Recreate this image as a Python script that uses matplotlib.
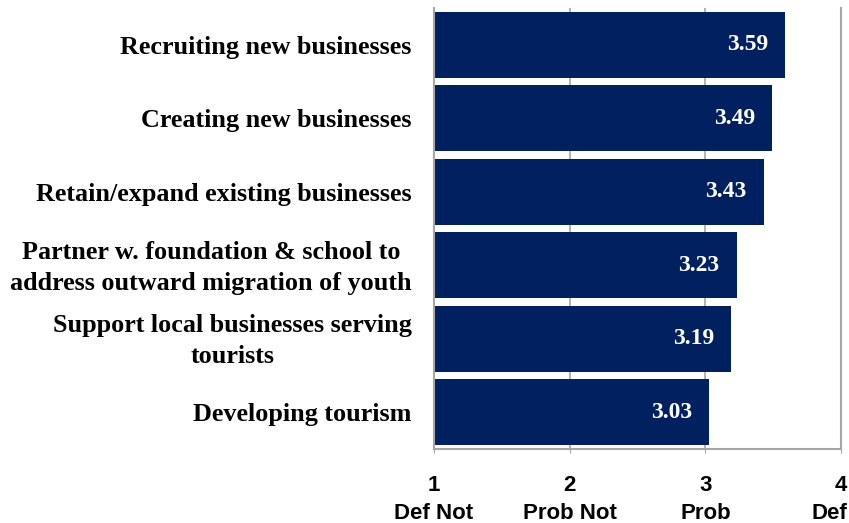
import matplotlib.pyplot as plt
import matplotlib.transforms as mtransforms
import numpy as np

categories = [
    "Recruiting new businesses",
    "Creating new businesses",
    "Retain/expand existing businesses",
    "Partner w. foundation & school to\naddress outward migration of youth",
    "Support local businesses serving\ntourists",
    "Developing tourism",
]
scores = [3.59, 3.49, 3.43, 3.23, 3.19, 3.03]
tick_values = [1, 2, 3, 4]
tick_labels = ["1\nDef Not", "2\nProb Not", "3\nProb", "4\nDef"]

navy = "#002060"
grid_gray = "#a6a6a6"

fig = plt.figure(figsize=(8.49, 5.23), dpi=100)
ax = fig.add_axes([0.5112, 0.1415, 0.4794, 0.8432])

# top category drawn at the top
ypos = np.arange(len(categories))[::-1]
ax.barh(ypos, [s - 1 for s in scores], left=1, height=0.9, color=navy, zorder=2)

for y, s in zip(ypos, scores):
    ax.text(s - 0.125, y, f"{s:.2f}", ha="right", va="center", color="white",
            fontsize=17, fontweight="bold", family="Liberation Serif", zorder=3)

ax.set_xlim(1, 4)
ax.set_ylim(-0.5, len(categories) - 0.5)

ax.set_yticks(ypos)
ax.set_yticklabels(categories, fontsize=18.8, fontweight="bold",
                   family="Liberation Serif", linespacing=1.45,
                   ha="right", multialignment="center")
ax.tick_params(axis="y", length=0, pad=16)

# two-line labels sit a touch higher
for lbl in ax.get_yticklabels():
    if "\n" in lbl.get_text():
        lbl.set_transform(lbl.get_transform() +
                          mtransforms.ScaledTranslation(0, 4 / 100, fig.dpi_scale_trans))

ax.set_xticks(tick_values)
ax.set_xticklabels(tick_labels, fontsize=16, fontweight="bold",
                   family="Liberation Sans", linespacing=1.4)
ax.tick_params(axis="x", length=3, color=grid_gray, pad=16)

# last label sits flush with the right edge of the figure
last = ax.get_xticklabels()[-1]
last.set_horizontalalignment("right")
last.set_multialignment("right")
last.set_transform(last.get_transform() +
                   mtransforms.ScaledTranslation(6 / 100, 0, fig.dpi_scale_trans))

ax.xaxis.grid(True, color=grid_gray, linewidth=1.2, zorder=0)
ax.set_axisbelow(True)

for side in ["left", "right", "bottom"]:
    ax.spines[side].set_color(grid_gray)
    ax.spines[side].set_linewidth(1.5)
ax.spines["top"].set_visible(False)

fig.savefig("out.png", dpi=100)
